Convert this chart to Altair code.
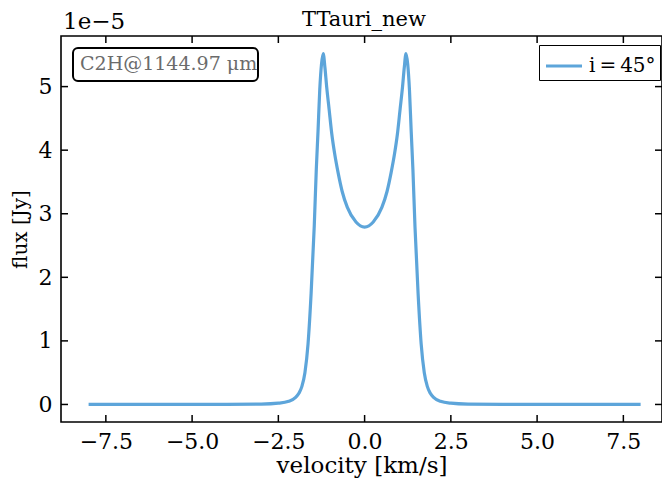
import altair as alt
import pandas as pd

# ---- data (flux in units of 1e-5 Jy) ----
velocity = [-8.0, -6.0, -4.0, -3.0, -2.5, -2.2, -2.0, -1.9, -1.82, -1.73, -1.64, -1.55,
            -1.46, -1.40, -1.35, -1.30, -1.25, -1.20, -1.15, -1.10, -1.03, -0.95, -0.87,
            -0.77, -0.65, -0.50, -0.25, 0.0,
            0.25, 0.50, 0.65, 0.77, 0.87, 0.95, 1.03, 1.10, 1.15, 1.20, 1.25, 1.30,
            1.35, 1.40, 1.46, 1.55, 1.64, 1.73, 1.82, 1.9, 2.0, 2.2, 2.5, 3.0, 4.0,
            6.0, 8.0]
flux = [0.0, 0.0, 0.0, 0.005, 0.02, 0.05, 0.11, 0.18, 0.28, 0.5, 0.95, 1.75,
        2.8, 3.7, 4.3, 4.95, 5.35, 5.52, 5.3, 5.0, 4.65, 4.25, 3.95,
        3.65, 3.35, 3.10, 2.87, 2.79,
        2.87, 3.10, 3.35, 3.65, 3.95, 4.25, 4.65, 5.0, 5.3, 5.52, 5.35, 4.95,
        4.3, 3.7, 2.8, 1.75, 0.95, 0.5, 0.28, 0.18, 0.11, 0.05, 0.02, 0.005, 0.0,
        0.0, 0.0]
series_label = "i\u2009=\u200945°"
x_ticks = [-7.5, -5.0, -2.5, 0.0, 2.5, 5.0, 7.5]
y_ticks = [0, 1, 2, 3, 4, 5]
title_text = "TTauri_new"
line_label = "C2H@1144.97 μm"
offset_label = "1e−5"

W, H = 601, 386
FONT = "DejaVu Serif"
TICK = 7

df = pd.DataFrame({"v": velocity, "f": flux, "s": [series_label] * len(velocity)})
xt = pd.DataFrame({"v": x_ticks})
yt = pd.DataFrame({"f": y_ticks})

xscale = alt.Scale(domain=[-8.8, 8.62], nice=False, zero=False)
yscale = alt.Scale(domain=[-0.276, 5.796], nice=False, zero=False)

line = alt.Chart(df).mark_line(strokeWidth=3.2, interpolate="monotone").encode(
    x=alt.X("v:Q", scale=xscale,
            axis=alt.Axis(title="velocity [km/s]", values=x_ticks, format=".1f",
                          grid=False, domain=False, ticks=False, tickSize=0,
                          labelPadding=9, labelFontSize=22, labelFont=FONT,
                          labelColor="black", titleFont=FONT, titleFontSize=23,
                          titleFontWeight="normal", titleColor="black",
                          titleBaseline="alphabetic", titleY=50)),
    y=alt.Y("f:Q", scale=yscale,
            axis=alt.Axis(title="flux [Jy]", values=y_ticks, format="d",
                          grid=False, domain=False, ticks=False, tickSize=0,
                          labelPadding=9, labelFontSize=22, labelFont=FONT,
                          labelColor="black", titleFont=FONT, titleFontSize=20,
                          titleFontWeight="normal", titleColor="black",
                          titleBaseline="alphabetic", titleX=-35, titleY=H / 2)),
    color=alt.Color("s:N", scale=alt.Scale(domain=[series_label], range=["#5DA5DA"]),
                    legend=alt.Legend(title=None, orient="none", legendX=478, legendY=9,
                                      strokeColor="black", fillColor="white",
                                      padding=4, cornerRadius=0,
                                      labelFont=FONT, labelFontSize=20, labelColor="black",
                                      symbolType="M-1.2,0H1.2", symbolSize=900,
                                      symbolStrokeWidth=3.2, symbolOffset=4,
                                      labelOffset=8)),
)

tick_style = dict(color="black", strokeWidth=1.5)
xb = alt.Chart(xt).mark_rule(**tick_style).encode(
    x="v:Q", y=alt.value(H), y2=alt.value(H - TICK))
xtop = alt.Chart(xt).mark_rule(**tick_style).encode(
    x="v:Q", y=alt.value(0), y2=alt.value(TICK))
yl = alt.Chart(yt).mark_rule(**tick_style).encode(
    y="f:Q", x=alt.value(0), x2=alt.value(TICK))
yr = alt.Chart(yt).mark_rule(**tick_style).encode(
    y="f:Q", x=alt.value(W), x2=alt.value(W - TICK))

box = alt.Chart(pd.DataFrame({"t": [line_label]})).mark_rect(
    fill="white", stroke="black", strokeWidth=2, cornerRadius=5).encode(
    x=alt.value(12), x2=alt.value(197), y=alt.value(12), y2=alt.value(45))
box_text = alt.Chart(pd.DataFrame({"t": [line_label]})).mark_text(
    font=FONT, fontSize=19, color="#6b6b6b", align="left", baseline="alphabetic").encode(
    text="t:N", x=alt.value(19), y=alt.value(34))

offset_text = alt.Chart(pd.DataFrame({"t": [offset_label]})).mark_text(
    font=FONT, fontSize=23, color="black", align="left", baseline="alphabetic").encode(
    text="t:N", x=alt.value(2), y=alt.value(-7))

title_mark = alt.Chart(pd.DataFrame({"t": [title_text]})).mark_text(
    font=FONT, fontSize=21, color="black", align="center", baseline="alphabetic").encode(
    text="t:N", x=alt.value(303), y=alt.value(-10))

chart = alt.layer(line, xb, xtop, yl, yr, box, box_text, offset_text, title_mark).properties(
    width=W, height=H,
    autosize="none",
    padding={"left": 53, "top": 28, "right": 0, "bottom": 58},
).configure(background="white").configure_view(stroke="black", strokeWidth=1.6)

chart.save("out.html", embed_options={"renderer": "svg", "actions": False})
